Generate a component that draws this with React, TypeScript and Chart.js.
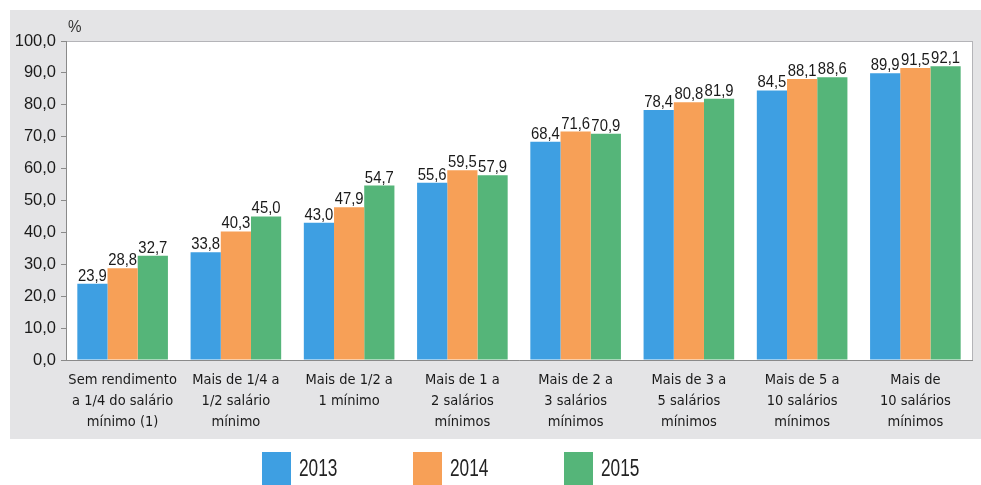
import React, { useEffect, useRef } from "react";
import { Chart, registerables } from "chart.js";

Chart.register(...registerables);

const categories: string[][] = [
  ["Sem rendimento", "a 1/4 do salário", "mínimo (1)"],
  ["Mais de 1/4 a", "1/2 salário", "mínimo"],
  ["Mais de 1/2 a", "1 mínimo"],
  ["Mais de 1 a", "2 salários", "mínimos"],
  ["Mais de 2 a", "3 salários", "mínimos"],
  ["Mais de 3 a", "5 salários", "mínimos"],
  ["Mais de 5 a", "10 salários", "mínimos"],
  ["Mais de", "10 salários", "mínimos"],
];

const values2013 = [23.9, 33.8, 43.0, 55.6, 68.4, 78.4, 84.5, 89.9];
const values2014 = [28.8, 40.3, 47.9, 59.5, 71.6, 80.8, 88.1, 91.5];
const values2015 = [32.7, 45.0, 54.7, 57.9, 70.9, 81.9, 88.6, 92.1];

const seriesNames = ["2013", "2014", "2015"];
const seriesColors = ["#3e9fe2", "#f7a057", "#55b579"];

const yTickLabels = ["0,0", "10,0", "20,0", "30,0", "40,0", "50,0", "60,0", "70,0", "80,0", "90,0", "100,0"];
const yUnit = "%";

const COND = "'DejaVu Sans Condensed', 'Liberation Sans', sans-serif";
const SANS = "'Liberation Sans', Arial, sans-serif";

const fmt = (v: number) => v.toFixed(1).replace(".", ",");

function drawScaledText(ctx: CanvasRenderingContext2D, text: string, x: number, y: number, sx: number, align: CanvasTextAlign) {
  ctx.save();
  ctx.translate(x, y);
  ctx.scale(sx, 1);
  ctx.textAlign = align;
  ctx.fillText(text, 0, 0);
  ctx.restore();
}

const backgroundPlugin = {
  id: "bgPanel",
  beforeDraw(chart: any) {
    const { ctx, chartArea } = chart;
    ctx.save();
    ctx.fillStyle = "#ffffff";
    ctx.fillRect(0, 0, chart.width, chart.height);
    ctx.fillStyle = "#e4e4e6";
    ctx.fillRect(10, 10, chart.width - 10, 429);
    ctx.fillStyle = "#ffffff";
    ctx.fillRect(chartArea.left, chartArea.top, chartArea.right - chartArea.left, chartArea.bottom - chartArea.top);
    ctx.strokeStyle = "#b4b4b8";
    ctx.lineWidth = 1;
    ctx.strokeRect(chartArea.left + 0.5, chartArea.top + 0.5, chartArea.right - chartArea.left, chartArea.bottom - chartArea.top);
    ctx.restore();
  },
};

const labelsPlugin = {
  id: "valueLabels",
  afterDatasetsDraw(chart: any) {
    const { ctx } = chart;
    ctx.save();
    ctx.font = `16.5px ${SANS}`;
    ctx.fillStyle = "#1a1a1a";
    ctx.textBaseline = "alphabetic";
    chart.data.datasets.forEach((ds: any, di: number) => {
      const meta = chart.getDatasetMeta(di);
      meta.data.forEach((el: any, i: number) => {
        drawScaledText(ctx, fmt(ds.data[i]), el.x, el.y - 3, 0.9, "center");
      });
    });
    ctx.restore();
  },
  afterDraw(chart: any) {
    const { ctx, chartArea } = chart;
    ctx.save();
    ctx.font = `16px ${SANS}`;
    ctx.fillStyle = "#333";
    ctx.textBaseline = "alphabetic";
    drawScaledText(ctx, yUnit, chartArea.left + 2, 32, 0.95, "left");
    const startX = 262;
    const step = 151;
    ctx.font = `23px ${SANS}`;
    chart.data.datasets.forEach((ds: any, di: number) => {
      const x = startX + di * step;
      ctx.fillStyle = ds.backgroundColor;
      ctx.fillRect(x, 452, 29, 40);
      ctx.fillStyle = "#222";
      ctx.textBaseline = "alphabetic";
      drawScaledText(ctx, ds.label, x + 37, 476, 0.75, "left");
    });
    ctx.restore();
  },
};

export default function App() {
  const ref = useRef<HTMLCanvasElement | null>(null);
  useEffect(() => {
    document.body.style.margin = "0";
    if (!ref.current) return;
    const chart = new Chart(ref.current, {
      type: "bar",
      data: {
        labels: categories,
        datasets: [values2013, values2014, values2015].map((d, i) => ({
          label: seriesNames[i],
          data: d,
          backgroundColor: seriesColors[i],
          borderWidth: 0,
          categoryPercentage: 0.8,
          barPercentage: 1.0,
        })),
      },
      options: {
        responsive: false,
        animation: false,
        layout: { padding: { top: 41, right: 9, left: 0, bottom: 0 } },
        plugins: { legend: { display: false }, tooltip: { enabled: false }, title: { display: false } },
        scales: {
          x: {
            grid: { display: false },
            border: { display: true, color: "#8a8a8a" },
            ticks: {
              autoSkip: false,
              maxRotation: 0,
              minRotation: 0,
              padding: 2,
              color: "#1a1a1a",
              font: { family: COND, size: 14.5, lineHeight: 1.45 },
            },
            afterFit(scale: any) {
              scale.height = 125;
            },
          },
          y: {
            min: 0,
            max: 100,
            ticks: {
              stepSize: 10,
              padding: 5,
              color: "#1a1a1a",
              font: { family: SANS, size: 16.5 },
              callback: (_v: any, idx: number) => yTickLabels[idx],
            },
            grid: { drawOnChartArea: false, drawTicks: true, tickLength: 5, color: "#8a8a8a" },
            border: { display: true, color: "#8a8a8a" },
            afterFit(scale: any) {
              scale.width = 66;
            },
          },
        },
      },
      plugins: [backgroundPlugin, labelsPlugin],
    });
    return () => chart.destroy();
  }, []);
  return (
    <div style={{ width: 981, height: 485, position: "relative" }}>
      <canvas ref={ref} width={981} height={485} />
    </div>
  );
}
